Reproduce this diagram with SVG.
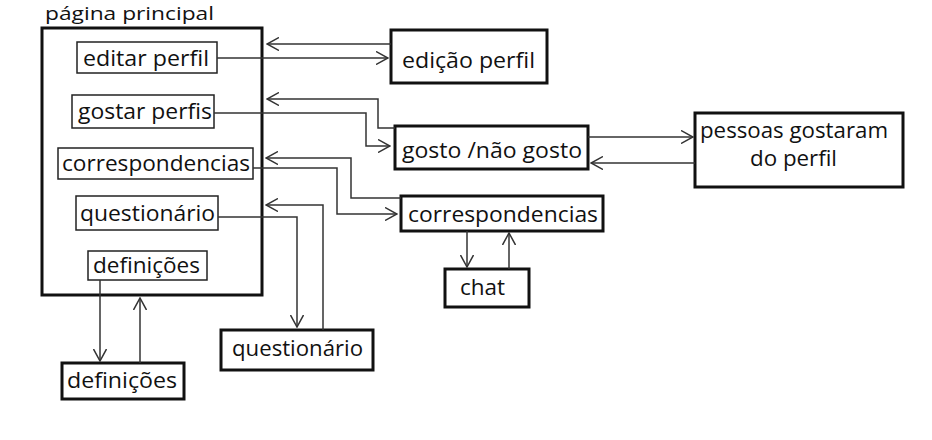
<svg xmlns="http://www.w3.org/2000/svg" width="932" height="440" viewBox="0 0 932 440">
<style>
text{font-family:"Open Sans","Liberation Sans",sans-serif;font-size:21px;fill:#111}
.title{font-size:18.5px}
.outer{fill:#fff;stroke:#111;stroke-width:3}
.inner{fill:#fff;stroke:#222;stroke-width:1.5}
.main{fill:none;stroke:#111;stroke-width:3}
.conn path{fill:none;stroke:#333;stroke-width:1.5}
</style>
<defs>
<marker id="arr" viewBox="0 0 13 14" refX="12" refY="7" markerWidth="13" markerHeight="14" markerUnits="userSpaceOnUse" orient="auto">
<path d="M0,0.5 L12,7 L0,13.5" fill="none" stroke="#333" stroke-width="1.5"/>
</marker>
</defs>
<rect width="932" height="440" fill="#fff"/>
<g id="pagina-principal">
<rect class="main" x="42" y="28" width="220" height="267"/>
<text class="title" x="45" y="20" textLength="169" lengthAdjust="spacingAndGlyphs">página principal</text>
</g>
<g id="editar-perfil">
<rect class="inner" x="77" y="42" width="140" height="31"/>
<text x="83" y="66" textLength="126" lengthAdjust="spacingAndGlyphs">editar perfil</text>
</g>
<g id="gostar-perfis">
<rect class="inner" x="72" y="95" width="142" height="33"/>
<text x="78" y="119" textLength="134" lengthAdjust="spacingAndGlyphs">gostar perfis</text>
</g>
<g id="correspondencias-menu">
<rect class="inner" x="58" y="148" width="195" height="31"/>
<text x="62" y="171" textLength="188" lengthAdjust="spacingAndGlyphs">correspondencias</text>
</g>
<g id="questionario-menu">
<rect class="inner" x="76" y="196" width="142" height="34"/>
<text x="80" y="221" textLength="135" lengthAdjust="spacingAndGlyphs">questionário</text>
</g>
<g id="definicoes-menu">
<rect class="inner" x="88" y="251" width="119" height="29"/>
<text x="93" y="273" textLength="107" lengthAdjust="spacingAndGlyphs">definições</text>
</g>
<g id="definicoes">
<rect class="outer" x="62" y="363" width="122" height="36"/>
<text x="67" y="388" textLength="110" lengthAdjust="spacingAndGlyphs">definições</text>
</g>
<g id="questionario">
<rect class="outer" x="221" y="330" width="152" height="40"/>
<text x="232" y="356" textLength="131" lengthAdjust="spacingAndGlyphs">questionário</text>
</g>
<g id="edicao-perfil">
<rect class="outer" x="391" y="30" width="156" height="53"/>
<text x="402" y="68" textLength="133" lengthAdjust="spacingAndGlyphs">edição perfil</text>
</g>
<g id="gosto-nao-gosto">
<rect class="outer" x="395" y="126" width="193" height="43"/>
<text x="402" y="158" textLength="180" lengthAdjust="spacingAndGlyphs">gosto /não gosto</text>
</g>
<g id="pessoas-gostaram">
<rect class="outer" x="695" y="113" width="208" height="74"/>
<text x="700" y="138" textLength="188" lengthAdjust="spacingAndGlyphs">pessoas gostaram</text>
<text x="750" y="166" textLength="87" lengthAdjust="spacingAndGlyphs">do perfil</text>
</g>
<g id="correspondencias">
<rect class="outer" x="401" y="196" width="202" height="35"/>
<text x="408" y="222" textLength="190" lengthAdjust="spacingAndGlyphs">correspondencias</text>
</g>
<g id="chat">
<rect class="outer" x="445" y="269" width="84" height="38"/>
<text x="460" y="295" textLength="45" lengthAdjust="spacingAndGlyphs">chat</text>
</g>
<g id="connectors" class="conn">
<path d="M391,44 L267,44" marker-end="url(#arr)"/>
<path d="M217,58 L388,58" marker-end="url(#arr)"/>
<path d="M395,128 L378,128 L378,99 L267,99" marker-end="url(#arr)"/>
<path d="M214,113 L366,113 L366,146 L390,146" marker-end="url(#arr)"/>
<path d="M401,198 L351,198 L351,158 L266,158" marker-end="url(#arr)"/>
<path d="M253,168 L337,168 L337,214 L397,214" marker-end="url(#arr)"/>
<path d="M323,330 L323,205 L266,205" marker-end="url(#arr)"/>
<path d="M218,217 L297,217 L297,327" marker-end="url(#arr)"/>
<path d="M100,280 L100,361" marker-end="url(#arr)"/>
<path d="M140,363 L140,298" marker-end="url(#arr)"/>
<path d="M467,231 L467,267" marker-end="url(#arr)"/>
<path d="M509,269 L509,233" marker-end="url(#arr)"/>
<path d="M588,137 L693,137" marker-end="url(#arr)"/>
<path d="M695,163 L591,163" marker-end="url(#arr)"/>
</g>
</svg>
